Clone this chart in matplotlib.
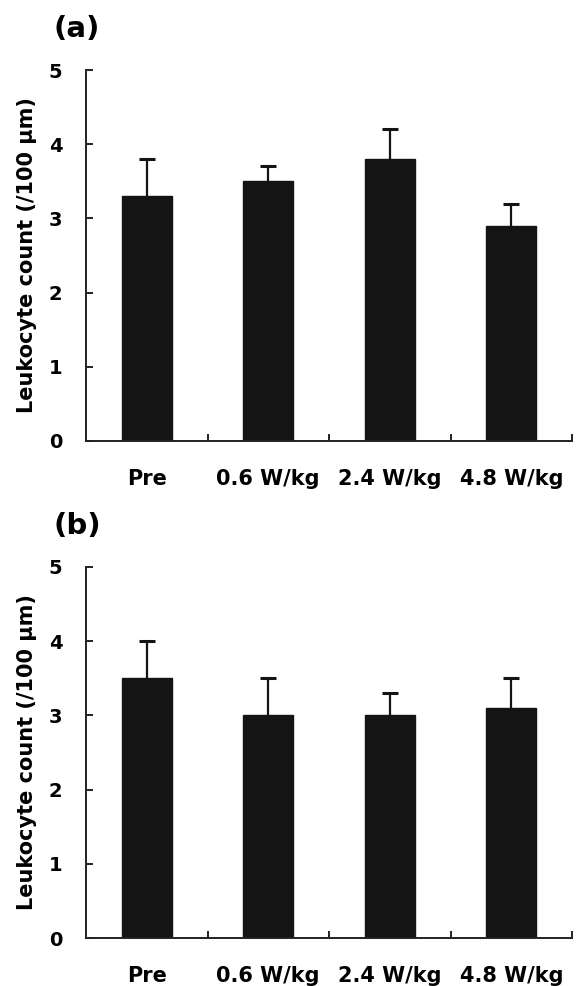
import numpy as np
import matplotlib
matplotlib.use("Agg")
import matplotlib.pyplot as plt

plt.rcParams['font.family'] = ['DejaVu Sans']
plt.rcParams['font.weight'] = 'bold'

# data
groups = ["Pre", "0.6 W/kg", "2.4 W/kg", "4.8 W/kg"]
mean_a = [3.3, 3.5, 3.8, 2.9]
err_a = [0.5, 0.2, 0.4, 0.3]
mean_b = [3.5, 3.0, 3.0, 3.1]
err_b = [0.5, 0.5, 0.3, 0.4]
yticks = [0, 1, 2, 3, 4, 5]
panel_tags = ["(a)", "(b)"]

W, H = 582, 986
fig = plt.figure(figsize=(W / 100, H / 100), dpi=100)

ink = "#141414"

def panel(top_px, means, errs, tag):
    bottom_px = top_px + 371
    ax = fig.add_axes([86 / W, 1 - bottom_px / H, 486 / W, 371 / H])
    x = np.arange(len(groups))
    ax.bar(x, means, width=0.41, color=ink, edgecolor=ink, zorder=2)
    eb = ax.errorbar(x, means, yerr=[np.zeros(len(errs)), errs], fmt='none',
                     ecolor=ink, elinewidth=1.6, capsize=5.5, capthick=2.2,
                     zorder=3)
    # only the upper whisker is shown
    eb[1][0].set_visible(False)
    ax.set_xlim(-0.5, 3.5)
    ax.set_ylim(0, 5)
    for s in ["top", "right"]:
        ax.spines[s].set_visible(False)
    for s in ["left", "bottom"]:
        ax.spines[s].set_linewidth(1.4)
        ax.spines[s].set_color("#222222")
    ax.set_yticks(yticks)
    ax.tick_params(axis='y', direction='in', length=5, width=1.4,
                   labelsize=14, pad=17, color="#222222")
    ax.set_xticks(x)
    ax.set_xticklabels(groups)
    ax.tick_params(axis='x', which='major', length=0, labelsize=15, pad=20)
    ax.set_xticks(np.arange(0.5, 4, 1), minor=True)
    ax.tick_params(axis='x', which='minor', direction='in', length=5,
                   width=1.4, color="#222222")
    ax.set_ylabel("Leukocyte count (/100 µm)", fontsize=15, fontweight='bold')
    ax.yaxis.set_label_coords(-0.101, 0.5)
    fig.text(53 / W, 1 - (top_px - 41) / H, tag, fontsize=21,
             fontweight='bold', ha='left', va='center')
    return ax

panel(70, mean_a, err_a, panel_tags[0])
panel(567, mean_b, err_b, panel_tags[1])

fig.savefig("out.png", dpi=100)
